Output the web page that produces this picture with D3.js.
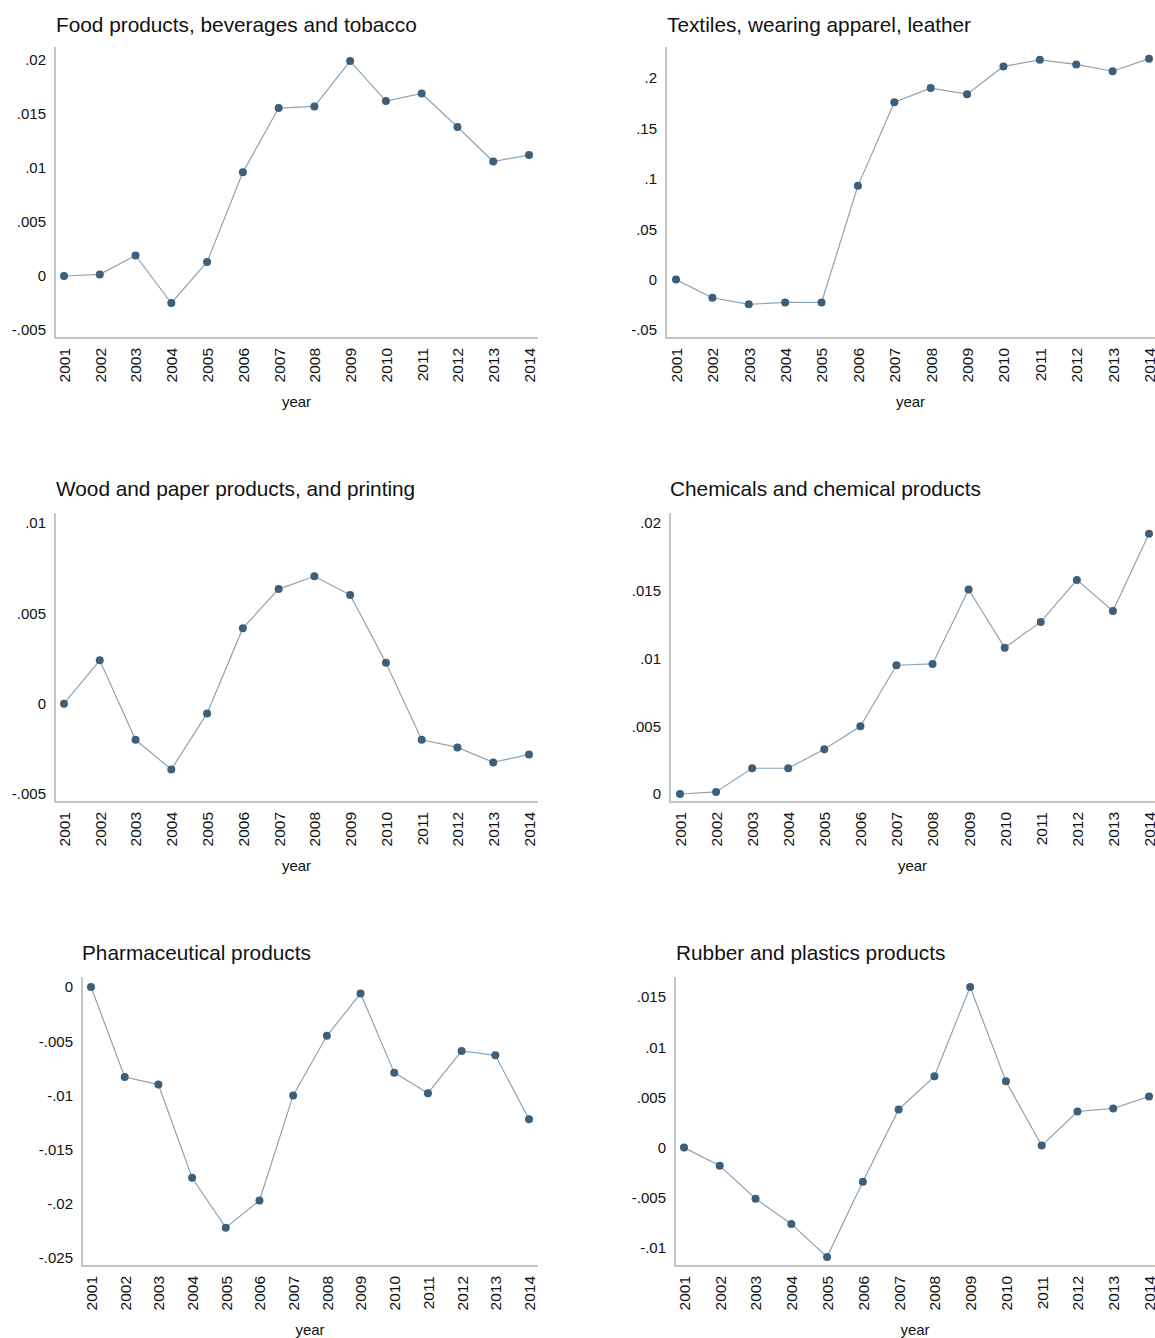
<!DOCTYPE html>
<html>
<head>
<meta charset="utf-8">
<script src="https://cdn.jsdelivr.net/npm/d3@7"></script>
<style>
  body { margin: 0; background: #fff; }
  svg { display: block; font-family: "Liberation Sans", Arial, sans-serif; }
</style>
</head>
<body>
<svg id="chart" width="1155" height="1338"></svg>
<script>
// data
var years = [2001, 2002, 2003, 2004, 2005, 2006, 2007, 2008, 2009, 2010, 2011, 2012, 2013, 2014];

var food = [0, 0.00015, 0.0019, -0.0025, 0.0013, 0.0096, 0.01555, 0.0157, 0.0199, 0.0162, 0.0169, 0.0138, 0.0106, 0.0112];
var textiles = [0, -0.018, -0.0245, -0.0226, -0.0226, 0.093, 0.176, 0.19, 0.184, 0.2115, 0.218, 0.2135, 0.2067, 0.2192];
var wood = [0, 0.0024, -0.002, -0.00364, -0.00054, 0.00418, 0.00634, 0.00705, 0.00602, 0.00227, -0.002, -0.00242, -0.00325, -0.00281];
var chemicals = [0, 0.00015, 0.0019, 0.0019, 0.0033, 0.005, 0.0095, 0.0096, 0.0151, 0.0108, 0.0127, 0.0158, 0.0135, 0.0192];
var pharma = [0, -0.0083, -0.009, -0.0176, -0.0222, -0.0197, -0.01, -0.0045, -0.0006, -0.0079, -0.0098, -0.0059, -0.0063, -0.0122];
var rubber = [0, -0.0018, -0.0051, -0.0076, -0.0109, -0.0034, 0.0038, 0.0071, 0.016, 0.0066, 0.0002, 0.0036, 0.0039, 0.0051];

var titles = ["Food products, beverages and tobacco", "Textiles, wearing apparel, leather",
  "Wood and paper products, and printing", "Chemicals and chemical products",
  "Pharmaceutical products", "Rubber and plastics products"];

var ticks1 = [-0.005, 0, 0.005, 0.01, 0.015, 0.02];
var ticks2 = [-0.05, 0, 0.05, 0.1, 0.15, 0.2];
var ticks3 = [-0.005, 0, 0.005, 0.01];
var ticks4 = [0, 0.005, 0.01, 0.015, 0.02];
var ticks5 = [-0.025, -0.02, -0.015, -0.01, -0.005, 0];
var ticks6 = [-0.01, -0.005, 0, 0.005, 0.01, 0.015];

// layout per panel: axis box, where first/last tick sit, first/last year
var panels = [
  {vals: food, ticks: ticks1, title: titles[0], tx: 56, ty: 25, left: 55, right: 538, top: 47, bottom: 338, yLo: 330, yHi: 60, x0: 64, x1: 529},
  {vals: textiles, ticks: ticks2, title: titles[1], tx: 667, ty: 25, left: 666, right: 1155, top: 47, bottom: 338, yLo: 330, yHi: 78, x0: 676, x1: 1149},
  {vals: wood, ticks: ticks3, title: titles[2], tx: 56, ty: 489, left: 55, right: 538, top: 513, bottom: 802, yLo: 794, yHi: 523, x0: 64, x1: 529},
  {vals: chemicals, ticks: ticks4, title: titles[3], tx: 670, ty: 489, left: 670, right: 1155, top: 513, bottom: 802, yLo: 794, yHi: 523, x0: 680, x1: 1149},
  {vals: pharma, ticks: ticks5, title: titles[4], tx: 82, ty: 953, left: 82, right: 538, top: 977, bottom: 1266, yLo: 1258, yHi: 987, x0: 91, x1: 529},
  {vals: rubber, ticks: ticks6, title: titles[5], tx: 676, ty: 953, left: 675, right: 1155, top: 977, bottom: 1266, yLo: 1248, yHi: 997, x0: 684, x1: 1149}
];

var svg = d3.select("#chart");

// stata style labels: .005, -.01, 0
function fmt(v) {
  if (v === 0) return "0";
  var s = String(+v.toFixed(4));
  return s.replace(/^(-?)0\./, "$1.");
}

panels.forEach(function(p) {
  var g = svg.append("g");
  var x = d3.scaleLinear().domain([years[0], years[years.length - 1]]).range([p.x0, p.x1]);
  var tLo = d3.min(p.ticks), tHi = d3.max(p.ticks);
  var y = d3.scaleLinear().domain([tLo, tHi]).range([p.yLo, p.yHi]);

  g.append("text")
    .attr("x", p.tx).attr("y", p.ty)
    .attr("dy", "0.35em")
    .style("font-size", "20.8px")
    .style("fill", "#111")
    .text(p.title);

  // y axis (no tick marks)
  var yAxis = d3.axisLeft(y).tickValues(p.ticks).tickSize(0).tickPadding(9).tickFormat(fmt);
  var ya = g.append("g").attr("transform", "translate(" + p.left + ",0)").call(yAxis);
  ya.select(".domain").remove();
  ya.selectAll("text").style("font-size", "15px").style("fill", "#111").style("font-family", "Liberation Sans, Arial, sans-serif");

  g.append("line")
    .attr("x1", p.left).attr("x2", p.left)
    .attr("y1", p.top).attr("y2", p.bottom)
    .attr("stroke", "#c4c4c4").attr("stroke-width", 2);

  // x axis with rotated year labels
  var xAxis = d3.axisBottom(x).tickValues(years).tickSize(0).tickPadding(0).tickFormat(d3.format("d"));
  var xa = g.append("g").attr("transform", "translate(0," + p.bottom + ")").call(xAxis);
  xa.select(".domain").remove();
  xa.selectAll("text")
    .style("font-size", "15.5px").style("fill", "#111").style("font-family", "Liberation Sans, Arial, sans-serif")
    .attr("transform", "rotate(-90)")
    .attr("text-anchor", "end")
    .attr("x", -10).attr("y", 0).attr("dy", "0.35em");

  g.append("line")
    .attr("x1", p.left - 1).attr("x2", p.right)
    .attr("y1", p.bottom).attr("y2", p.bottom)
    .attr("stroke", "#c4c4c4").attr("stroke-width", 2);

  g.append("text")
    .attr("x", (p.left + p.right) / 2).attr("y", p.bottom + 64)
    .attr("dy", "0.35em")
    .attr("text-anchor", "middle")
    .style("font-size", "15px").style("fill", "#111")
    .text("year");

  var line = d3.line()
    .x(function(d, i) { return x(years[i]); })
    .y(function(d) { return y(d); });

  g.append("path")
    .datum(p.vals)
    .attr("d", line)
    .attr("fill", "none")
    .attr("stroke", "#8ea3b4")
    .attr("stroke-width", 1.2);

  g.selectAll("circle")
    .data(p.vals)
    .enter().append("circle")
    .attr("cx", function(d, i) { return x(years[i]); })
    .attr("cy", function(d) { return y(d); })
    .attr("r", 4)
    .attr("fill", "#3d5f79");
});
</script>
</body>
</html>
